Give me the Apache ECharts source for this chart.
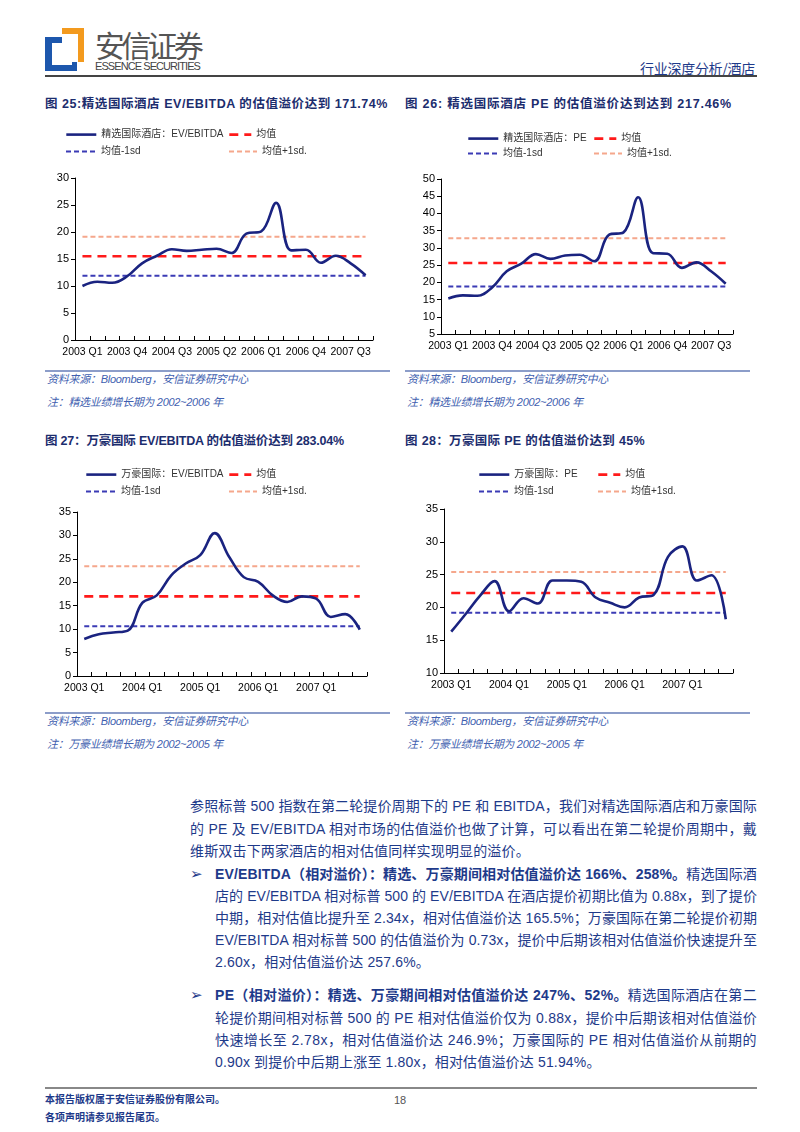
<!DOCTYPE html>
<html><head><meta charset="utf-8">
<script src="https://cdn.jsdelivr.net/npm/echarts@6/dist/echarts.min.js"></script>
<style>
html,body{margin:0;padding:0;background:#fff;}
#page{position:relative;width:800px;height:1132px;overflow:hidden;font-family:"Liberation Sans","Noto Sans CJK SC",sans-serif;}
.t{position:absolute;white-space:nowrap;line-height:1;}
.chart{position:absolute;width:340px;height:240px;}
.rule{position:absolute;}
b{font-weight:bold;}
</style></head><body><div id="page"></div>
<script>
// ---------------- data ----------------
const quarters = ["2003 Q1","2003 Q2","2003 Q3","2003 Q4","2004 Q1","2004 Q2","2004 Q3","2004 Q4",
  "2005 Q1","2005 Q2","2005 Q3","2005 Q4","2006 Q1","2006 Q2","2006 Q3","2006 Q4",
  "2007 Q1","2007 Q2","2007 Q3","2007 Q4"];

const xuanEvName = "精选国际酒店：EV/EBITDA";
const xuanEv = [10.0,10.8,10.6,11.8,14.2,15.6,16.8,16.5,16.7,16.9,16.1,19.7,20.1,25.4,16.6,16.7,14.3,15.6,14.2,12.0];
const xuanEvBands = [15.5, 11.9, 19.1];   // mean, mean-1sd, mean+1sd

const xuanPeName = "精选国际酒店：PE";
const xuanPe = [15.3,16.2,16.1,18.5,23.2,25.4,28.2,26.8,27.8,28.0,26.1,33.8,34.5,44.7,28.5,28.3,24.2,25.8,23.2,19.6];
const xuanPeBands = [25.6, 18.8, 32.8];

const wanEvName = "万豪国际：EV/EBITDA";
const wanEv = [7.9,8.9,9.3,9.7,15.6,17.2,21.5,24.0,25.8,30.5,25.4,21.1,20.1,17.2,15.8,17.0,16.5,12.6,13.2,9.9];
const wanEvBands = [17.0, 10.6, 23.4];

const wanPeName = "万豪国际：PE";
const wanPe = [16.3,19.0,21.8,24.0,19.4,21.4,20.6,24.1,24.1,23.9,21.5,20.7,20.0,21.5,21.9,27.7,29.3,24.1,24.9,18.2];
const wanPeBands = [22.2, 19.2, 25.4];

const bandNames = ["均值","均值-1sd","均值+1sd."];

// ---------------- page text ----------------
const NAVY = "#1e3a8a";
const page = document.getElementById('page');
const fits = [];
function addText(x, yc, html, size, style, target) {
  const d = document.createElement('div');
  d.className = 't';
  d.innerHTML = html;
  d.style.left = x + 'px';
  d.style.top = (yc - size/2) + 'px';
  d.style.fontSize = size + 'px';
  d.style.height = size + 'px';
  Object.assign(d.style, style || {});
  page.appendChild(d);
  if (target) fits.push([d, target]);
  return d;
}
function addRule(x, y, w, h, color) {
  const d = document.createElement('div');
  d.className = 'rule';
  Object.assign(d.style, {left:x+'px', top:y+'px', width:w+'px', height:h+'px', background:color});
  page.appendChild(d);
}

// header logo
addRule(45, 37, 32, 34, "#1d57ad");
addRule(52, 43, 20, 22, "#ffffff");
addRule(62, 28, 22, 34, "#f39a1e");
addRule(62, 34, 16, 28, "#ffffff");
addRule(52, 43, 10, 22, "#ffffff");
addText(95, 44, "安信证券", 30, {color:"#555", fontFamily:"Noto Sans CJK SC"}, 105);
addText(95, 66, "ESSENCE SECURITIES", 11, {color:"#444"}, 105);
addText(640, 68, "行业深度分析/酒店", 14, {color:NAVY, fontFamily:"Noto Sans CJK SC"}, 115);
addRule(45, 75, 712, 2, "#444");

// captions
const capStyle = {color:"#1c2d6e", fontWeight:"bold"};
addText(45, 104, "图 25:精选国际酒店 EV/EBITDA 的估值溢价达到 171.74%", 12.5, capStyle, 343);
addText(405, 104, "图 26: 精选国际酒店 PE 的估值溢价达到达到 217.46%", 12.5, capStyle, 327);
addText(45, 441, "图 27：万豪国际 EV/EBITDA 的估值溢价达到 283.04%", 12.5, capStyle, 299);
addText(405, 441, "图 28：万豪国际 PE 的估值溢价达到 45%", 12.5, capStyle, 240);

// sources
const srcStyle = {color:"#3f5fb0", fontStyle:"italic"};
[[45,370,"2002~2006"],[405,370,"2002~2006"],[45,712,"2002~2005"],[405,712,"2002~2005"]].forEach((s,i)=>{
  addRule(s[0], s[1], 345, 1.5, "#8c9dc9");
  addText(s[0]+2, s[1]+9, "资料来源：Bloomberg，安信证券研究中心", 11, srcStyle, 201);
  addText(s[0]+2, s[1]+32, (i<2 ? "注：精选业绩增长期为 " : "注：万豪业绩增长期为 ") + s[2] + " 年", 11, srcStyle, 176);
});

// body text
const bodyStyle = {color:NAVY};
const body = [
  [190, 806, "参照标普 500 指数在第二轮提价周期下的 PE 和 EBITDA，我们对精选国际酒店和万豪国际", 567],
  [190, 829, "的 PE 及 EV/EBITDA 相对市场的估值溢价也做了计算，可以看出在第二轮提价周期中，戴", 567],
  [190, 851, "维斯双击下两家酒店的相对估值同样实现明显的溢价。", 0],
  [215, 874, "<b>EV/EBITDA（相对溢价）：精选、万豪期间相对估值溢价达 166%、258%。</b>精选国际酒", 542],
  [215, 896, "店的 EV/EBITDA 相对标普 500 的 EV/EBITDA 在酒店提价初期比值为 0.88x，到了提价", 542],
  [215, 918, "中期，相对估值比提升至 2.34x，相对估值溢价达 165.5%；万豪国际在第二轮提价初期", 542],
  [215, 940, "EV/EBITDA 相对标普 500 的估值溢价为 0.73x，提价中后期该相对估值溢价快速提升至", 542],
  [215, 962, "2.60x，相对估值溢价达 257.6%。", 0],
  [215, 995, "<b>PE（相对溢价）：精选、万豪期间相对估值溢价达 247%、52%。</b>精选国际酒店在第二", 542],
  [215, 1018, "轮提价期间相对标普 500 的 PE 相对估值溢价仅为 0.88x，提价中后期该相对估值溢价", 542],
  [215, 1040, "快速增长至 2.78x，相对估值溢价达 246.9%；万豪国际的 PE 相对估值溢价从前期的", 542],
  [215, 1062, "0.90x 到提价中后期上涨至 1.80x，相对估值溢价达 51.94%。", 0]
];
const bodyEls = body.map(l => addText(l[0], l[1], l[2], 14, bodyStyle, l[3] || null));
addText(190, 874, "➢", 15, {color:NAVY, fontWeight:"bold", fontFamily:"DejaVu Sans"});
addText(190, 995, "➢", 15, {color:NAVY, fontWeight:"bold", fontFamily:"DejaVu Sans"});

// footer
addRule(45, 1087, 712, 2, "#888");
addText(45, 1100, "本报告版权属于安信证券股份有限公司。", 10, {color:NAVY, fontWeight:"bold"});
addText(45, 1118, "各项声明请参见报告尾页。", 10, {color:NAVY, fontWeight:"bold"});
addText(394, 1100, "18", 11, {color:"#555"});

function fitAll() {
  let sum = 0, n = 0;
  fits.forEach(([d, target]) => {
    d.style.letterSpacing = '0px';
    const w = d.getBoundingClientRect().width;
    const len = d.textContent.length;
    const ls = (target - w) / len;
    d.style.letterSpacing = ls + 'px';
    if (d.style.fontSize === '14px') { sum += ls; n++; }
  });
  const avg = n ? sum / n : 0;
  body.forEach((l, i) => { if (!l[3]) bodyEls[i].style.letterSpacing = avg + 'px'; });
}

// ---------------- charts ----------------
const FONT = "Liberation Sans";
function makeChart(box, cfg) {
  const el = document.createElement('div');
  el.className = 'chart';
  el.style.left = box[0] + 'px'; el.style.top = box[1] + 'px';
  page.appendChild(el);
  const chart = echarts.init(el, null, {renderer: 'canvas'});
  const names = [cfg.name, bandNames[0], bandNames[1], bandNames[2]];
  const colors = ["#1a2380", "#ff1a1a", "#3b3bb5", "#f5a78c"];
  const widths = [2.6, 2.6, 2, 2];
  const types = ["solid", [9, 6], [5, 3], [5, 3]];
  const iconW = [30, 22, 30, 28];
  const legends = cfg.legendPos.map((p, i) => ({
    data: [names[i]], left: p[0], top: p[1] - 7, itemWidth: iconW[i], itemHeight: 14,
    padding: 0, selectedMode: false,
    itemStyle: {opacity: 0},
    lineStyle: {color: colors[i], width: widths[i], type: types[i]},
    textStyle: {fontSize: 10, color: "#333", fontFamily: FONT + ", Noto Sans CJK SC"}
  }));
  const seriesData = [cfg.data, quarters.map(() => cfg.bands[0]),
                      quarters.map(() => cfg.bands[1]), quarters.map(() => cfg.bands[2])];
  const series = names.map((nm, i) => ({
    name: nm, type: 'line', data: seriesData[i], symbol: 'none', showSymbol: false,
    smooth: i === 0 ? 0.4 : false, z: i === 0 ? 5 : 2, animation: false,
    itemStyle: {color: colors[i]},
    lineStyle: {color: colors[i], width: widths[i], type: types[i]}
  }));
  chart.setOption({
    animation: false,
    legend: legends,
    grid: {left: cfg.grid[0], top: cfg.grid[1], right: cfg.grid[2], bottom: cfg.grid[3], containLabel: false},
    xAxis: {
      type: 'category', data: quarters, boundaryGap: true,
      axisLine: {lineStyle: {color: '#000', width: 1}},
      axisTick: {show: true, inside: true, length: 4, interval: 0, lineStyle: {color: '#000'}},
      axisLabel: {interval: cfg.labelInterval, fontSize: 10.5, color: '#000', fontFamily: FONT, margin: 7, hideOverlap: false}
    },
    yAxis: {
      type: 'value', min: cfg.y[0], max: cfg.y[1], interval: cfg.y[2],
      axisLine: {show: true, lineStyle: {color: '#000', width: 1}},
      axisTick: {show: true, length: 4, lineStyle: {color: '#000'}},
      splitLine: {show: false},
      axisLabel: {fontSize: 11, color: '#000', fontFamily: FONT, margin: 6}
    },
    series: series
  });
}

makeChart([40, 120], {name: xuanEvName, data: xuanEv, bands: xuanEvBands,
  grid: [35, 58, 7, 20], y: [0, 30, 5], labelInterval: 2,
  legendPos: [[25, 16], [188, 16], [25, 33], [188, 33]]});
makeChart([400, 120], {name: xuanPeName, data: xuanPe, bands: xuanPeBands,
  grid: [41, 59, 7, 26], y: [5, 50, 5], labelInterval: 2,
  legendPos: [[67, 20], [193, 20], [67, 35], [193, 35]]});
makeChart([40, 460], {name: wanEvName, data: wanEv, bands: wanEvBands,
  grid: [37, 52, 13, 24], y: [0, 35, 5], labelInterval: 3,
  legendPos: [[45, 16], [188, 16], [45, 33], [188, 33]]});
makeChart([400, 460], {name: wanPeName, data: wanPe, bands: wanPeBands,
  grid: [44, 49, 7, 27], y: [10, 35, 5], labelInterval: 3,
  legendPos: [[78, 16], [197, 16], [78, 33], [197, 33]]});

if (document.fonts && document.fonts.ready) { document.fonts.ready.then(fitAll); }
fitAll();
</script>
</body></html>
